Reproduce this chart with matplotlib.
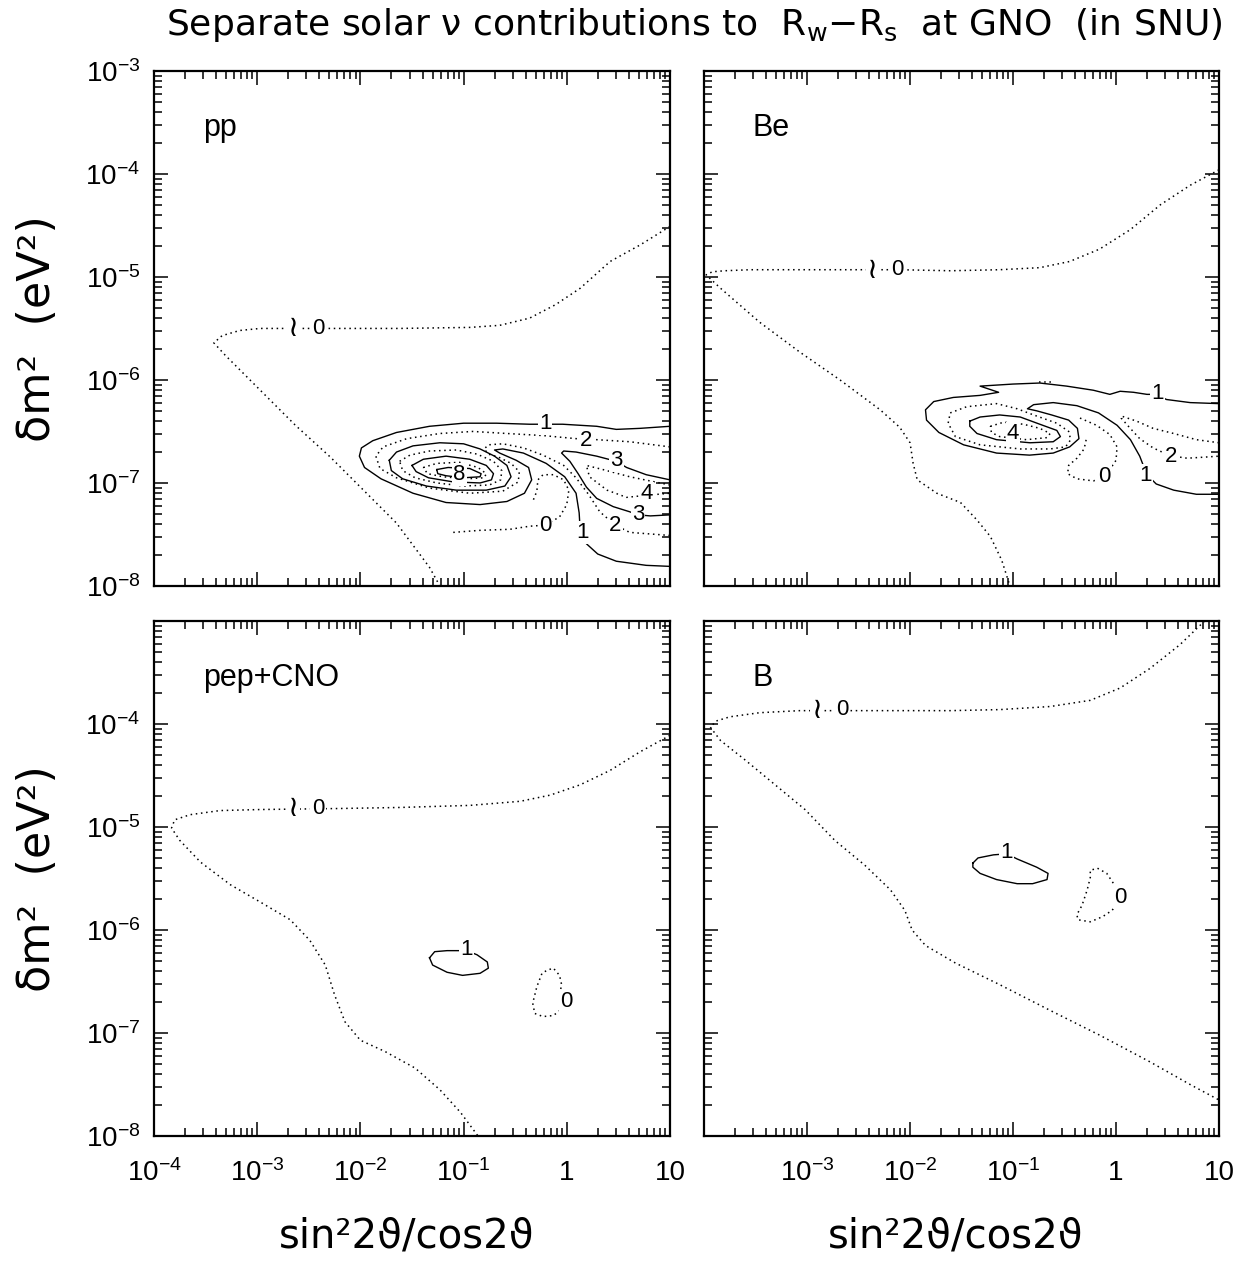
import matplotlib
matplotlib.use("Agg")
import matplotlib.pyplot as plt
from matplotlib import font_manager
from matplotlib.ticker import FixedLocator, FuncFormatter, NullFormatter
import numpy as np


def _pick_font(cands):
    names = {f.name for f in font_manager.fontManager.ttflist}
    for c in cands:
        if c in names:
            return c
    return "DejaVu Sans"


REG = _pick_font(["Liberation Sans", "DejaVu Sans"])
plt.rcParams["font.family"] = [REG, "DejaVu Sans"]
plt.rcParams["mathtext.fontset"] = "custom"
plt.rcParams["mathtext.rm"] = REG
plt.rcParams["mathtext.it"] = REG
plt.rcParams["mathtext.default"] = "rm"

# ---- contour curves: (log10 sin^2/cos, log10 dm^2) ----
# pp panel
PP_OUTER0 = [(1.0, -4.51), (0.71, -4.69), (0.42, -4.85), (0.13, -5.11), (-0.11, -5.27),
             (-0.36, -5.40), (-0.65, -5.47), (-0.94, -5.49), (-1.62, -5.50), (-2.29, -5.50),
             (-2.97, -5.50), (-3.17, -5.52), (-3.34, -5.57), (-3.42, -5.64), (-3.31, -5.76),
             (-2.97, -6.10), (-2.63, -6.44), (-2.29, -6.75), (-1.97, -7.07), (-1.65, -7.39),
             (-1.33, -7.82), (-1.23, -8.0)]
PP_S1 = [(1.0, -6.45), (0.71, -6.47), (0.48, -6.48), (0.29, -6.45), (-0.04, -6.43),
         (-0.36, -6.43), (-0.68, -6.42), (-1.00, -6.42), (-1.33, -6.45), (-1.65, -6.51),
         (-1.88, -6.59), (-1.99, -6.66), (-2.01, -6.74), (-1.96, -6.85), (-1.80, -6.96),
         (-1.49, -7.10), (-1.17, -7.19), (-0.84, -7.21), (-0.58, -7.18), (-0.41, -7.10),
         (-0.34, -6.97), (-0.37, -6.85), (-0.49, -6.78), (-0.65, -6.71), (-0.70, -6.68),
         (-0.62, -6.67), (-0.42, -6.71), (-0.20, -6.81), (-0.02, -6.94), (0.09, -7.10),
         (0.12, -7.29), (0.13, -7.46), (0.19, -7.59), (0.30, -7.69), (0.48, -7.76),
         (0.77, -7.80), (1.0, -7.81)]
PP_D2 = [(1.0, -6.65), (0.61, -6.60), (0.29, -6.58), (0.09, -6.57), (-0.23, -6.54),
         (-0.58, -6.52), (-0.91, -6.50), (-1.23, -6.52), (-1.55, -6.57), (-1.78, -6.65),
         (-1.85, -6.74), (-1.81, -6.86), (-1.65, -6.95), (-1.33, -7.05), (-0.94, -7.10),
         (-0.62, -7.08), (-0.47, -6.99), (-0.46, -6.89), (-0.54, -6.81), (-0.66, -6.75),
         (-0.76, -6.72), (-0.80, -6.67), (-0.76, -6.63), (-0.62, -6.62), (-0.42, -6.66),
         (-0.23, -6.73), (-0.03, -6.83), (0.09, -6.95), (0.21, -7.11), (0.32, -7.28),
         (0.47, -7.41), (0.61, -7.48), (1.0, -7.51)]
PP_S3 = [(1.0, -6.97), (0.77, -6.92), (0.58, -6.85), (0.48, -6.79), (0.29, -6.74),
         (0.09, -6.70), (-0.03, -6.69), (-0.05, -6.71), (0.03, -6.79), (0.11, -6.91),
         (0.19, -7.04), (0.29, -7.15), (0.45, -7.23), (0.61, -7.28), (0.69, -7.31),
         (0.81, -7.32), (1.0, -7.31)]
PP_D4 = [(1.0, -7.02), (0.61, -6.94), (0.35, -6.87), (0.19, -6.83), (0.22, -6.94),
         (0.39, -7.07), (0.58, -7.14), (0.77, -7.12), (1.0, -7.10)]
PP_D0 = [(-1.10, -7.48), (-0.84, -7.46), (-0.55, -7.45), (-0.36, -7.42), (-0.21, -7.41),
         (-0.07, -7.33), (0.00, -7.21), (0.02, -7.07), (-0.03, -6.97), (-0.13, -6.92),
         (-0.23, -6.92), (-0.28, -6.97), (-0.29, -7.08), (-0.33, -7.18)]
PP_RING3 = [(-1.72, -6.78), (-1.65, -6.70), (-1.49, -6.64), (-1.23, -6.61), (-1.00, -6.62),
            (-0.84, -6.67), (-0.70, -6.74), (-0.58, -6.83), (-0.54, -6.94), (-0.60, -7.03),
            (-0.78, -7.07), (-1.07, -7.07), (-1.36, -7.03), (-1.59, -6.96), (-1.70, -6.88),
            (-1.72, -6.78)]
PP_RING4 = [(-1.62, -6.79), (-1.52, -6.73), (-1.33, -6.69), (-1.07, -6.68), (-0.87, -6.72),
            (-0.71, -6.79), (-0.63, -6.88), (-0.64, -6.97), (-0.75, -7.02), (-1.00, -7.03),
            (-1.26, -7.00), (-1.47, -6.95), (-1.59, -6.88), (-1.62, -6.79)]
PP_RING5 = [(-1.50, -6.83), (-1.39, -6.77), (-1.17, -6.74), (-0.94, -6.77), (-0.78, -6.83),
            (-0.71, -6.91), (-0.73, -6.97), (-0.84, -7.00), (-1.10, -6.99), (-1.34, -6.95),
            (-1.46, -6.89), (-1.50, -6.83)]
PP_RING6 = [(-1.39, -6.85), (-1.26, -6.81), (-1.04, -6.80), (-0.86, -6.85), (-0.78, -6.91),
            (-0.80, -6.95), (-0.97, -6.96), (-1.20, -6.94), (-1.35, -6.91), (-1.39, -6.85)]
PP_RING7 = [(-1.26, -6.87), (-1.15, -6.85), (-0.94, -6.86), (-0.83, -6.91), (-0.84, -6.94),
            (-1.00, -6.95), (-1.17, -6.93), (-1.25, -6.91), (-1.26, -6.87)]
PP_LABELS = [("1", -0.21, -6.42), ("2", 0.19, -6.59), ("3", 0.48, -6.78),
             ("4", 0.77, -7.10), ("3", 0.69, -7.31), ("2", 0.47, -7.41), ("1", 0.15, -7.48),
             ("0", -0.21, -7.41), ("8", -1.04, -6.92)]
PP_ZERO = (-2.41, -5.50)

# Be panel
BE_OUTER0 = [(1.0, -3.96), (0.72, -4.11), (0.43, -4.30), (0.14, -4.54), (-0.16, -4.73),
             (-0.45, -4.85), (-0.74, -4.91), (-1.13, -4.93), (-1.61, -4.94), (-2.10, -4.93),
             (-2.58, -4.93), (-3.07, -4.93), (-3.55, -4.93), (-3.80, -4.94), (-3.92, -4.95),
             (-3.98, -4.98), (-3.84, -5.11), (-3.46, -5.44), (-3.07, -5.73), (-2.68, -6.00),
             (-2.29, -6.29), (-2.10, -6.46), (-2.00, -6.61), (-1.97, -6.81), (-1.93, -6.97),
             (-1.74, -7.10), (-1.51, -7.19), (-1.35, -7.36), (-1.22, -7.52), (-1.11, -7.75),
             (-1.03, -8.0)]
BE_S1 = [(1.0, -6.23), (0.72, -6.22), (0.49, -6.19), (0.38, -6.14), (0.30, -6.14),
         (0.17, -6.12), (0.04, -6.11), (-0.06, -6.14), (-0.22, -6.10), (-0.48, -6.06),
         (-0.74, -6.03), (-1.00, -6.04), (-1.32, -6.06), (-1.14, -6.12), (-1.32, -6.15),
         (-1.58, -6.17), (-1.77, -6.21), (-1.85, -6.29), (-1.84, -6.39), (-1.72, -6.51),
         (-1.48, -6.63), (-1.16, -6.71), (-0.84, -6.73), (-0.61, -6.71), (-0.45, -6.65),
         (-0.36, -6.57), (-0.375, -6.47), (-0.46, -6.39), (-0.625, -6.34), (-0.77, -6.30),
         (-0.86, -6.28), (-0.80, -6.24), (-0.61, -6.22), (-0.38, -6.25), (-0.17, -6.32),
         (0.01, -6.44), (0.14, -6.58), (0.23, -6.74), (0.28, -6.87), (0.31, -6.93),
         (0.39, -7.01), (0.56, -7.07), (0.78, -7.11), (1.0, -7.11)]
BE_SPECK = [(-0.75, -6.02), (-0.62, -6.02)]
BE_D2 = [(1.0, -6.61), (0.78, -6.58), (0.56, -6.52), (0.36, -6.47), (0.20, -6.40),
         (0.05, -6.35), (0.05, -6.37), (0.12, -6.45), (0.23, -6.57), (0.36, -6.66),
         (0.49, -6.72), (0.56, -6.74), (0.69, -6.76), (0.85, -6.75), (1.0, -6.74)]
BE_D0 = [(-0.35, -6.37), (-0.19, -6.44), (-0.06, -6.53), (0.01, -6.65), (0.00, -6.78),
         (-0.06, -6.87), (-0.09, -6.94), (-0.22, -6.98), (-0.38, -6.96), (-0.47, -6.91),
         (-0.46, -6.83), (-0.38, -6.76), (-0.31, -6.67), (-0.29, -6.58)]
BE_RING_A = [(-1.61, -6.32), (-1.45, -6.26), (-1.16, -6.23), (-0.96, -6.28), (-0.80, -6.34),
             (-0.575, -6.42), (-0.46, -6.50), (-0.44, -6.58), (-0.49, -6.65), (-0.64, -6.67),
             (-0.93, -6.67), (-1.32, -6.63), (-1.56, -6.55), (-1.63, -6.42), (-1.61, -6.32)]
BE_RING_B = [(-1.42, -6.40), (-1.32, -6.36), (-1.13, -6.34), (-0.93, -6.36), (-0.74, -6.43),
             (-0.575, -6.49), (-0.54, -6.55), (-0.61, -6.60), (-0.835, -6.61), (-1.16, -6.58),
             (-1.35, -6.52), (-1.42, -6.45), (-1.42, -6.40)]
BE_RING_C = [(-1.22, -6.45), (-1.09, -6.41), (-0.90, -6.43), (-0.74, -6.47), (-0.64, -6.52),
             (-0.67, -6.56), (-0.87, -6.58), (-1.13, -6.55), (-1.21, -6.51), (-1.22, -6.45)]
BE_LABELS = [("1", 0.40, -6.13), ("4", -1.00, -6.52), ("2", 0.53, -6.74),
             ("0", -0.11, -6.94), ("1", 0.29, -6.93)]
BE_ZERO = (-2.12, -4.93)

# pep+CNO panel
PEP_OUTER0 = [(1.0, -4.11), (0.71, -4.27), (0.42, -4.45), (0.13, -4.59), (-0.16, -4.69),
              (-0.45, -4.75), (-0.94, -4.79), (-1.62, -4.81), (-2.20, -4.82), (-2.97, -4.83),
              (-3.36, -4.84), (-3.65, -4.88), (-3.80, -4.93), (-3.83, -5.01), (-3.75, -5.13),
              (-3.55, -5.34), (-3.26, -5.56), (-2.95, -5.74), (-2.68, -5.90), (-2.49, -6.10),
              (-2.34, -6.34), (-2.25, -6.63), (-2.15, -6.89), (-2.00, -7.07), (-1.76, -7.18),
              (-1.47, -7.34), (-1.23, -7.55), (-1.03, -7.77), (-0.86, -8.0)]
PEP_S1 = [(-1.33, -6.27), (-1.28, -6.21), (-1.16, -6.20), (-1.05, -6.20), (-0.97, -6.20),
          (-0.87, -6.24), (-0.77, -6.31), (-0.76, -6.37), (-0.84, -6.42), (-1.01, -6.44),
          (-1.16, -6.41), (-1.30, -6.34), (-1.33, -6.27)]
PEP_D0 = [(0.00, -6.69), (-0.07, -6.63), (-0.05, -6.53), (-0.07, -6.44), (-0.13, -6.37),
          (-0.19, -6.39), (-0.24, -6.42), (-0.29, -6.55), (-0.33, -6.71), (-0.31, -6.81),
          (-0.23, -6.84), (-0.13, -6.83), (-0.04, -6.76)]
PEP_LABELS = [("1", -0.97, -6.19), ("0", 0.00, -6.69)]
PEP_ZERO = (-2.41, -4.82)

# B panel
B_OUTER0 = [(0.86, -3.0), (0.62, -3.23), (0.33, -3.46), (0.04, -3.65), (-0.25, -3.77),
            (-0.64, -3.83), (-1.13, -3.86), (-1.61, -3.87), (-2.10, -3.87), (-2.75, -3.87),
            (-3.07, -3.87), (-3.46, -3.89), (-3.75, -3.93), (-3.88, -3.97), (-3.94, -4.03),
            (-3.84, -4.16), (-3.60, -4.35), (-3.31, -4.59), (-3.02, -4.83), (-2.73, -5.13),
            (-2.44, -5.37), (-2.19, -5.61), (-2.05, -5.81), (-1.98, -6.00), (-1.85, -6.15),
            (-1.56, -6.32), (-1.13, -6.53), (-0.64, -6.78), (-0.16, -7.02), (0.33, -7.28),
            (0.72, -7.50), (1.0, -7.65)]
B_S1 = [(-1.39, -5.35), (-1.34, -5.30), (-1.19, -5.27), (-1.06, -5.26), (-0.96, -5.31),
        (-0.77, -5.39), (-0.66, -5.45), (-0.67, -5.51), (-0.81, -5.55), (-0.96, -5.55),
        (-1.16, -5.51), (-1.32, -5.45), (-1.39, -5.39), (-1.39, -5.35)]
B_D0 = [(0.04, -5.68), (0.01, -5.61), (-0.03, -5.54), (-0.09, -5.45), (-0.18, -5.40),
        (-0.25, -5.42), (-0.25, -5.49), (-0.28, -5.61), (-0.33, -5.76), (-0.38, -5.85),
        (-0.37, -5.90), (-0.25, -5.92), (-0.13, -5.87), (-0.04, -5.81), (0.02, -5.74)]
B_LABELS = [("1", -1.06, -5.25), ("0", 0.04, -5.68)]
B_ZERO = (-2.66, -3.86)

PANEL_NAMES = ["pp", "Be", "pep+CNO", "B"]
DECADES_X = [-4, -3, -2, -1, 0, 1]
DECADES_Y = [-8, -7, -6, -5, -4, -3]

SOLID = dict(color="black", lw=1.0, ls="-")
DOTS = dict(color="black", lw=1.1, ls=(0, (1.0, 2.4)))
LBL_FONT = [REG, "DejaVu Sans"]
WIDE = ["DejaVu Sans"]


def draw(ax, pts, style):
    a = np.asarray(pts, dtype=float)
    ax.plot(10 ** a[:, 0], 10 ** a[:, 1], zorder=2, **style)


def put_labels(ax, labels, zero):
    for txt, lx, ly in labels:
        ax.text(10 ** lx, 10 ** ly, txt, ha="center", va="center", fontsize=16,
                family=LBL_FONT, zorder=4, bbox=dict(fc="white", ec="none", pad=0.8))
    # the "~0" marker on the big zero contour
    zx, zy = 10 ** zero[0], 10 ** zero[1]
    ax.text(zx, zy, "0", ha="center", va="center", fontsize=16, family=LBL_FONT, zorder=4,
            bbox=dict(fc="white", ec="none", pad=1.5))
    ax.annotate("≀", xy=(zx, zy), xytext=(-18, 0), textcoords="offset points",
                ha="center", va="center", fontsize=21, family=WIDE, zorder=4,
                bbox=dict(fc="white", ec="none", pad=1.0))


def tick_fmt(hide):
    def f(v, pos):
        e = int(round(np.log10(v)))
        if e in hide:
            return ""
        if e == 0:
            return "1"
        if e == 1:
            return "10"
        return r"$10^{%d}$" % e
    return FuncFormatter(f)


def setup(ax, xlab, ylab, hide_x=(), hide_y=()):
    ax.set_xscale("log")
    ax.set_yscale("log")
    ax.set_xlim(1e-4, 10)
    ax.set_ylim(1e-8, 1e-3)
    ax.xaxis.set_major_locator(FixedLocator([10.0 ** e for e in DECADES_X]))
    ax.yaxis.set_major_locator(FixedLocator([10.0 ** e for e in DECADES_Y]))
    ax.xaxis.set_minor_formatter(NullFormatter())
    ax.yaxis.set_minor_formatter(NullFormatter())
    ax.xaxis.set_major_formatter(tick_fmt(hide_x) if xlab else NullFormatter())
    ax.yaxis.set_major_formatter(tick_fmt(hide_y) if ylab else NullFormatter())
    ax.tick_params(which="both", direction="in", top=True, right=True, width=1.1)
    ax.tick_params(which="major", length=10)
    ax.tick_params(which="minor", length=6)
    ax.tick_params(axis="x", which="major", pad=17, labelsize=20)
    ax.tick_params(axis="y", which="major", pad=10, labelsize=20)
    for sp in ax.spines.values():
        sp.set_linewidth(1.6)


fig = plt.figure(figsize=(12.49, 12.62), dpi=100)
ax_pp = fig.add_axes([0.1233, 0.5357, 0.4131, 0.4081])
ax_be = fig.add_axes([0.5637, 0.5357, 0.4123, 0.4081])
ax_pep = fig.add_axes([0.1233, 0.0998, 0.4131, 0.4081])
ax_b = fig.add_axes([0.5637, 0.0998, 0.4123, 0.4081])

setup(ax_pp, False, True)
setup(ax_be, False, False)
setup(ax_pep, True, True, hide_y=(-3,))
setup(ax_b, True, False, hide_x=(-4,))

# pp
draw(ax_pp, PP_OUTER0, DOTS)
for c in (PP_S1, PP_S3, PP_RING3, PP_RING5, PP_RING7):
    draw(ax_pp, c, SOLID)
for c in (PP_D2, PP_D4, PP_D0, PP_RING4, PP_RING6):
    draw(ax_pp, c, DOTS)
put_labels(ax_pp, PP_LABELS, PP_ZERO)

# Be
draw(ax_be, BE_OUTER0, DOTS)
for c in (BE_S1, BE_RING_B):
    draw(ax_be, c, SOLID)
for c in (BE_SPECK, BE_D2, BE_D0, BE_RING_A, BE_RING_C):
    draw(ax_be, c, DOTS)
put_labels(ax_be, BE_LABELS, BE_ZERO)

# pep+CNO
draw(ax_pep, PEP_OUTER0, DOTS)
draw(ax_pep, PEP_S1, SOLID)
draw(ax_pep, PEP_D0, DOTS)
put_labels(ax_pep, PEP_LABELS, PEP_ZERO)

# B
draw(ax_b, B_OUTER0, DOTS)
draw(ax_b, B_S1, SOLID)
draw(ax_b, B_D0, DOTS)
put_labels(ax_b, B_LABELS, B_ZERO)

for ax, name in zip((ax_pp, ax_be, ax_pep, ax_b), PANEL_NAMES):
    ax.text(0.095, 0.89, name, transform=ax.transAxes, ha="left", va="center", fontsize=22)

fig.text(0.556, 0.980,
         r"Separate solar ν contributions to  R$_{\rm w}$$-$R$_{\rm s}$  at GNO  (in SNU)",
         ha="center", va="center", fontsize=26, family=WIDE, math_fontfamily="dejavusans")
for yc in (0.7397, 0.3039):
    fig.text(0.030, yc, "δm²  (eV²)", rotation=90, ha="center", va="center", fontsize=32,
             family=WIDE)
for xc in (0.326, 0.765):
    fig.text(xc, 0.020, "sin²2ϑ/cos2ϑ", ha="center", va="center", fontsize=29, family=WIDE)

fig.savefig("out.png", dpi=100)
